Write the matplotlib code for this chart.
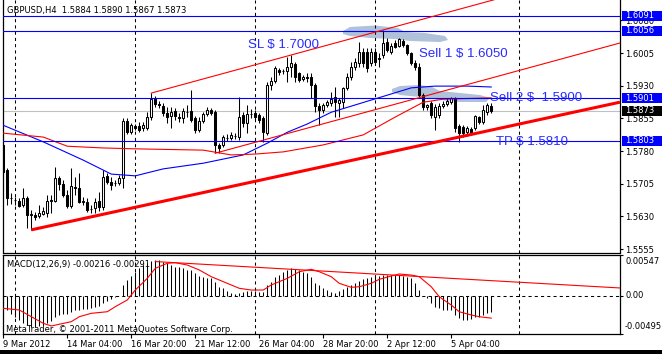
import matplotlib
matplotlib.use("Agg")
import numpy as np
import matplotlib.pyplot as plt
from matplotlib import transforms
from matplotlib.patches import Polygon, Rectangle

W, H = 662, 354

# GBPUSD H4 candles
OPEN = [1.5794, 1.5736, 1.5672, 1.5667, 1.5665, 1.5656, 1.5672, 1.5633, 1.5633, 1.5631,
        1.5635, 1.5638, 1.5667, 1.5665, 1.5718, 1.5704, 1.5679, 1.5654, 1.5697, 1.5695,
        1.5663, 1.5663, 1.5647, 1.5649, 1.5665, 1.5651, 1.5723, 1.5709, 1.5706, 1.5706,
        1.5718, 1.5849, 1.5824, 1.5837, 1.5837, 1.5833, 1.5833, 1.5858, 1.5902, 1.5888,
        1.5883, 1.5867, 1.5860, 1.5872, 1.5858, 1.5856, 1.5869, 1.5872, 1.5856, 1.5828,
        1.5849, 1.5865, 1.5874, 1.5869, 1.5794, 1.5794, 1.5810, 1.5810, 1.5814, 1.5812,
        1.5863, 1.5844, 1.5865, 1.5867, 1.5863, 1.5856, 1.5821, 1.5931, 1.5941, 1.5966,
        1.5964, 1.5964, 1.5973, 1.5980, 1.5959, 1.5945, 1.5950, 1.5950, 1.5931, 1.5883,
        1.5874, 1.5886, 1.5890, 1.5904, 1.5890, 1.5892, 1.5925, 1.5950, 1.5973, 1.5982,
        1.6007, 1.6007, 1.5982, 1.6007, 1.5994, 1.6000, 1.6030, 1.6007, 1.6028, 1.6021,
        1.6033, 1.6023, 1.6005, 1.5982, 1.5973, 1.5908, 1.5881, 1.5890, 1.5858, 1.5863,
        1.5883, 1.5888, 1.5892, 1.5902, 1.5837, 1.5835, 1.5824, 1.5830, 1.5833, 1.5858,
        1.5847, 1.5869, 1.5884]
HIGH = [1.5805, 1.5741, 1.5684, 1.5674, 1.5672, 1.5695, 1.5677, 1.5645, 1.5640, 1.5656,
        1.5651, 1.5679, 1.5679, 1.5743, 1.5723, 1.5713, 1.5690, 1.5741, 1.5720, 1.5729,
        1.5674, 1.5672, 1.5656, 1.5672, 1.5686, 1.5736, 1.5729, 1.5720, 1.5713, 1.5725,
        1.5856, 1.5856, 1.5844, 1.5842, 1.5847, 1.5847, 1.5869, 1.5913, 1.5906, 1.5895,
        1.5890, 1.5881, 1.5881, 1.5879, 1.5867, 1.5879, 1.5886, 1.5920, 1.5860, 1.5858,
        1.5869, 1.5881, 1.5879, 1.5874, 1.5798, 1.5817, 1.5819, 1.5824, 1.5821, 1.5904,
        1.5869, 1.5886, 1.5876, 1.5874, 1.5867, 1.5860, 1.5938, 1.5950, 1.5975, 1.5971,
        1.5968, 1.5996, 1.6000, 1.5984, 1.5961, 1.5954, 1.5959, 1.5959, 1.5936, 1.5890,
        1.5890, 1.5897, 1.5915, 1.5927, 1.5902, 1.5927, 1.5959, 1.5984, 1.5994, 1.6030,
        1.6017, 1.6017, 1.6017, 1.6017, 1.6005, 1.6058, 1.6039, 1.6028, 1.6035, 1.6039,
        1.6037, 1.6026, 1.6007, 1.5989, 1.5982, 1.5913, 1.5888, 1.5895, 1.5888, 1.5890,
        1.5895, 1.5902, 1.5904, 1.5904, 1.5842, 1.5840, 1.5837, 1.5835, 1.5863, 1.5860,
        1.5886, 1.5890, 1.5890]
LOW = [1.5718, 1.5656, 1.5658, 1.5656, 1.5651, 1.5651, 1.5603, 1.5599, 1.5622, 1.5626,
       1.5633, 1.5628, 1.5638, 1.5663, 1.5690, 1.5674, 1.5649, 1.5649, 1.5679, 1.5661,
       1.5656, 1.5640, 1.5638, 1.5638, 1.5642, 1.5645, 1.5704, 1.5690, 1.5700, 1.5702,
       1.5695, 1.5819, 1.5819, 1.5828, 1.5824, 1.5826, 1.5828, 1.5851, 1.5881, 1.5879,
       1.5860, 1.5844, 1.5833, 1.5851, 1.5847, 1.5844, 1.5858, 1.5847, 1.5821, 1.5824,
       1.5844, 1.5860, 1.5863, 1.5775, 1.5775, 1.5789, 1.5803, 1.5805, 1.5808, 1.5805,
       1.5835, 1.5821, 1.5856, 1.5851, 1.5844, 1.5801, 1.5817, 1.5920, 1.5936, 1.5954,
       1.5957, 1.5938, 1.5950, 1.5938, 1.5938, 1.5941, 1.5938, 1.5902, 1.5869, 1.5840,
       1.5867, 1.5881, 1.5883, 1.5858, 1.5858, 1.5879, 1.5920, 1.5943, 1.5966, 1.5973,
       1.5973, 1.5961, 1.5975, 1.5980, 1.5973, 1.5994, 1.6007, 1.6003, 1.6017, 1.6019,
       1.6019, 1.6000, 1.5977, 1.5966, 1.5904, 1.5874, 1.5874, 1.5856, 1.5828, 1.5856,
       1.5879, 1.5883, 1.5888, 1.5824, 1.5801, 1.5812, 1.5814, 1.5817, 1.5828, 1.5842,
       1.5842, 1.5863, 1.5867]
CLOSE = [1.5732, 1.5672, 1.5671, 1.5668, 1.5654, 1.5672, 1.5633, 1.5635, 1.5628, 1.5638,
         1.5642, 1.5665, 1.5665, 1.5718, 1.5704, 1.5679, 1.5654, 1.5700, 1.5695, 1.5663,
         1.5665, 1.5645, 1.5646, 1.5663, 1.5651, 1.5720, 1.5709, 1.5702, 1.5707, 1.5718,
         1.5849, 1.5824, 1.5840, 1.5833, 1.5828, 1.5840, 1.5858, 1.5899, 1.5888, 1.5886,
         1.5867, 1.5858, 1.5869, 1.5860, 1.5856, 1.5872, 1.5870, 1.5851, 1.5828, 1.5849,
         1.5865, 1.5874, 1.5867, 1.5794, 1.5787, 1.5812, 1.5811, 1.5817, 1.5815, 1.5858,
         1.5844, 1.5865, 1.5864, 1.5858, 1.5851, 1.5824, 1.5931, 1.5941, 1.5971, 1.5961,
         1.5963, 1.5973, 1.5982, 1.5950, 1.5943, 1.5950, 1.5948, 1.5931, 1.5883, 1.5874,
         1.5886, 1.5892, 1.5899, 1.5892, 1.5897, 1.5925, 1.5950, 1.5973, 1.5984, 1.6007,
         1.5982, 1.5971, 1.6007, 1.5984, 1.5991, 1.6028, 1.6012, 1.6021, 1.6019, 1.6037,
         1.6023, 1.6005, 1.5982, 1.5973, 1.5908, 1.5881, 1.5886, 1.5863, 1.5881, 1.5883,
         1.5888, 1.5895, 1.5902, 1.5833, 1.5821, 1.5821, 1.5833, 1.5821, 1.5860, 1.5847,
         1.5874, 1.5886, 1.5873]

# moving averages (sampled along the curve)
BLUE_MA_IDX = [0, 10, 20, 27, 33, 40, 50, 60, 66, 71, 76, 82, 92, 102, 108, 116, 122]
BLUE_MA = [1.5839, 1.5801, 1.5759, 1.5727, 1.5723, 1.5739, 1.5752, 1.5771, 1.5798,
           1.5823, 1.5842, 1.5869, 1.5897, 1.5925, 1.5929, 1.5929, 1.5927]
RED_MA_IDX = [0, 10, 16, 25, 33, 50, 57, 63, 70, 80, 90, 98, 105, 110, 122]
RED_MA = [1.5821, 1.5812, 1.5791, 1.5787, 1.5785, 1.5782, 1.5771, 1.5773, 1.5778,
          1.5794, 1.5817, 1.5858, 1.5892, 1.5899, 1.5902]

# MACD(12,26,9): histogram per bar, signal line sampled
MACD_HIST = [-0.00117, -0.00183, -0.00236, -0.00276, -0.00316, -0.00355, -0.00382, -0.00409, -0.00409, -0.00395,
             -0.00382, -0.00355, -0.00329, -0.00276, -0.00249, -0.00236, -0.00236, -0.00210, -0.00183, -0.00183,
             -0.00170, -0.00170, -0.00157, -0.00143, -0.00130, -0.00090, -0.00064, -0.00037, -0.00017, 0.00003,
             0.00149, 0.00215, 0.00268, 0.00321, 0.00374, 0.00414, 0.00440, 0.00467, 0.00480, 0.00480,
             0.00454, 0.00440, 0.00414, 0.00387, 0.00387, 0.00374, 0.00348, 0.00348, 0.00308, 0.00268,
             0.00255, 0.00242, 0.00242, 0.00188, 0.00122, 0.00109, 0.00069, 0.00042, 0.00029, 0.00042,
             0.00056, 0.00069, 0.00069, 0.00069, 0.00056, 0.00056, 0.00149, 0.00188, 0.00255, 0.00281,
             0.00321, 0.00348, 0.00374, 0.00361, 0.00348, 0.00321, 0.00308, 0.00255, 0.00175, 0.00149,
             0.00109, 0.00082, 0.00056, 0.00042, 0.00069, 0.00096, 0.00122, 0.00149, 0.00175, 0.00202,
             0.00228, 0.00242, 0.00255, 0.00268, 0.00268, 0.00281, 0.00281, 0.00281, 0.00281, 0.00281,
             0.00268, 0.00255, 0.00242, 0.00175, 0.00082, 0.00003, -0.00024, -0.00090, -0.00143, -0.00157,
             -0.00183, -0.00183, -0.00183, -0.00249, -0.00289, -0.00316, -0.00316, -0.00303, -0.00276, -0.00276,
             -0.00249, -0.00223, -0.00216]
SIG_IDX = [0, 4, 7, 10, 12, 17, 19, 22, 26, 28, 31, 33, 36, 38, 41, 43, 46, 49, 52, 56, 59, 62, 65,
           67, 71, 74, 77, 79, 82, 84, 87, 89, 92, 94, 97, 99, 102, 104, 107, 109, 112, 114, 117, 119, 122]
SIG = [-0.00161, -0.00183, -0.00272, -0.00360, -0.00395, -0.00338, -0.00272, -0.00227, -0.00206,
       -0.00139, -0.00050, 0.00082, 0.00237, 0.00370, 0.00437, 0.00445, 0.00414, 0.00348, 0.00259,
       0.00171, 0.00105, 0.00082, 0.00082, 0.00149, 0.00237, 0.00325, 0.00357, 0.00325, 0.00259,
       0.00171, 0.00118, 0.00126, 0.00171, 0.00224, 0.00268, 0.00295, 0.00281, 0.00259, 0.00126,
       -0.00007, -0.00117, -0.00206, -0.00249, -0.00272, -0.00291]

LEVELS = [1.6091, 1.6056, 1.5901, 1.5803]
LAST_PRICE = 1.5873
PRICE_TICKS = [1.6080, 1.6005, 1.5930, 1.5855, 1.5780, 1.5705, 1.5630, 1.5555]
MACD_TICKS = [0.00547, 0.0, -0.00495]
TIME_IDX = [0, 16, 32, 48, 64, 80, 96, 112]
TIME_LABELS = ["9 Mar 2012", "14 Mar 04:00", "16 Mar 20:00", "21 Mar 12:00",
               "26 Mar 04:00", "28 Mar 20:00", "2 Apr 12:00", "5 Apr 04:00"]
GRID_IDX = [3, 33, 63, 93, 129]
TREND = [(7, 1.5599), (122, 1.5828)]
MACD_TREND = [(38, 0.0046), (154, 0.0011)]

plt.rcParams['font.family'] = ['DejaVu Sans']


def fx(px):
    return px / W


def fy(py):
    return 1 - py / H


def ray(p0, p1, x_end):
    k = (p1[1] - p0[1]) / (p1[0] - p0[0])
    return [p0[0], x_end], [p0[1], p0[1] + k * (x_end - p0[0])]


fig = plt.figure(figsize=(W / 100, H / 100), dpi=100)
ax = fig.add_axes([fx(2.5), fy(252.5), (620 - 2.5) / W, 252.5 / H])
ax2 = fig.add_axes([fx(2.5), fy(333.5), (620 - 2.5) / W, (333.5 - 255) / H])

XL = (-0.2, 154.2)
for a in (ax, ax2):
    a.set_xlim(*XL)
    for s in a.spines.values():
        s.set_linewidth(0.9)
        s.set_color('black')
    for g in GRID_IDX:
        a.axvline(g, color='black', lw=0.75, ls=(0, (3, 3)), zorder=1)
ax.spines['top'].set_visible(False)
ax.set_ylim(1.5547, 1.61267)
ax2.set_ylim(-0.00495, 0.00547)

# clouds
def cloud(pts):
    verts = [((px - 2.5) / 617.5, 1 - py / 252.5) for px, py in pts]
    ax.add_patch(Polygon(verts, closed=True, transform=ax.transAxes,
                         facecolor='#b0c1da', edgecolor='none', zorder=0.5))

cloud([(343, 31), (350, 27), (375, 25.5), (398, 28), (405, 32), (425, 33), (445, 36), (448, 40),
       (440, 42), (410, 41), (395, 39), (370, 38), (350, 36), (343, 34)])
cloud([(392, 89), (400, 86), (420, 85), (432, 87), (440, 91), (460, 93), (480, 95), (490, 98),
       (486, 102), (460, 102), (440, 100), (420, 97), (400, 95), (392, 92)])

ax.axhline(LAST_PRICE, color='#c0c0c0', lw=0.8, zorder=1.2)

# candles
x = np.arange(len(OPEN))
o, h, l, c = map(np.array, (OPEN, HIGH, LOW, CLOSE))
up = c >= o
ax.vlines(x, l, h, color='black', lw=0.75, zorder=3)
ax.bar(x[up], (c - o)[up], bottom=o[up], width=0.55, facecolor='white',
       edgecolor='black', lw=0.75, zorder=4)
ax.bar(x[~up], (o - c)[~up], bottom=c[~up], width=0.55, facecolor='black',
       edgecolor='black', lw=0.75, zorder=4)

ax.plot(BLUE_MA_IDX, BLUE_MA, color='blue', lw=0.8, zorder=5)
ax.plot(RED_MA_IDX, RED_MA, color='red', lw=0.8, zorder=5)

for lv in LEVELS:
    ax.axhline(lv, color='#0000ff', lw=0.8, zorder=5)

# trend lines / channel
ax.plot(*ray(TREND[0], TREND[1], XL[1]), color='red', lw=2.2, zorder=6, solid_capstyle='butt')
up_a, up_b = (37, HIGH[37]), (95, HIGH[95])
ax.plot(*ray(up_a, up_b, XL[1]), color='red', lw=0.8, zorder=6)
k = (up_b[1] - up_a[1]) / (up_b[0] - up_a[0])
lo_a = (53, LOW[53])
ax.plot(*ray(lo_a, (lo_a[0] + 1, lo_a[1] + k), XL[1]), color='red', lw=0.8, zorder=6)

# price scale
ax.set_xticks([])
ax.yaxis.tick_right()
ax.set_yticks(PRICE_TICKS)
ax.set_yticklabels(['%.4f' % p for p in PRICE_TICKS])
ax.tick_params(axis='y', direction='out', length=2.2, width=0.8, pad=1.5, labelsize=6)

blend = transforms.blended_transform_factory(fig.transFigure, ax.transData)
box_h = 10 * (1.61267 - 1.5547) / 252.5
for lv, fc in [(p, '#0000ff') for p in LEVELS] + [(LAST_PRICE, 'black')]:
    fig.add_artist(Rectangle((fx(622), lv - box_h / 2), fx(662) - fx(622), box_h,
                             transform=blend, facecolor=fc, edgecolor='none', zorder=2))
    fig.text(fx(625), lv, '%.4f' % lv, transform=blend, color='white', fontsize=6,
             va='center', ha='left', zorder=3)

# MACD panel
ax2.vlines(x, 0, MACD_HIST, color='black', lw=0.75, zorder=3)
ax2.plot(SIG_IDX, SIG, color='red', lw=0.8, zorder=4)
ax2.plot(*ray(MACD_TREND[0], MACD_TREND[1], XL[1]), color='red', lw=0.8, zorder=4)
ax2.axhline(0, color='black', lw=0.75, ls=(0, (3, 3)), zorder=2)
ax2.yaxis.tick_right()
ax2.set_yticks(MACD_TICKS)
ax2.set_yticklabels([])
ax2.tick_params(axis='y', direction='out', length=2.2, width=0.8)
for txt, py in [('0.00547', 261), ('0.00', 296), ('-0.00495', 326.5)]:
    fig.text(fx(625), fy(py), txt, fontsize=6, va='center', ha='left')

ax2.set_xticks(TIME_IDX)
ax2.set_xticklabels(TIME_LABELS, ha='left')
ax2.tick_params(axis='x', direction='out', length=3, width=0.8, pad=1.5, labelsize=6)

# texts
fig.text(fx(7), fy(11), 'GBPUSD,H4  1.5884 1.5890 1.5867 1.5873', fontsize=6, va='center')
fig.text(fx(7), fy(264), 'MACD(12,26,9) -0.00216 -0.00291', fontsize=6, va='center', zorder=5)
fig.text(fx(6), fy(329), 'MetaTrader, \u00a9 2001-2011 MetaQuotes Software Corp.', fontsize=6,
         va='center', zorder=5)

note_kw = dict(fontsize=9.5, family='Liberation Sans', color='#2a2aff', va='center', ha='left', zorder=6)
fig.text(fx(248), fy(45), 'SL $ 1.7000', **note_kw)
fig.text(fx(419), fy(54), 'Sell 1 $ 1.6050', **note_kw)
fig.text(fx(490), fy(97.5), 'Sell 2 $  1.5900', **note_kw)
fig.text(fx(496), fy(142.5), 'TP $ 1.5810', **note_kw)

fig.add_artist(Rectangle((0, 0), 1, 4 / H, transform=fig.transFigure,
                         facecolor='black', edgecolor='none', zorder=10))

fig.savefig('out.png', dpi=100)
